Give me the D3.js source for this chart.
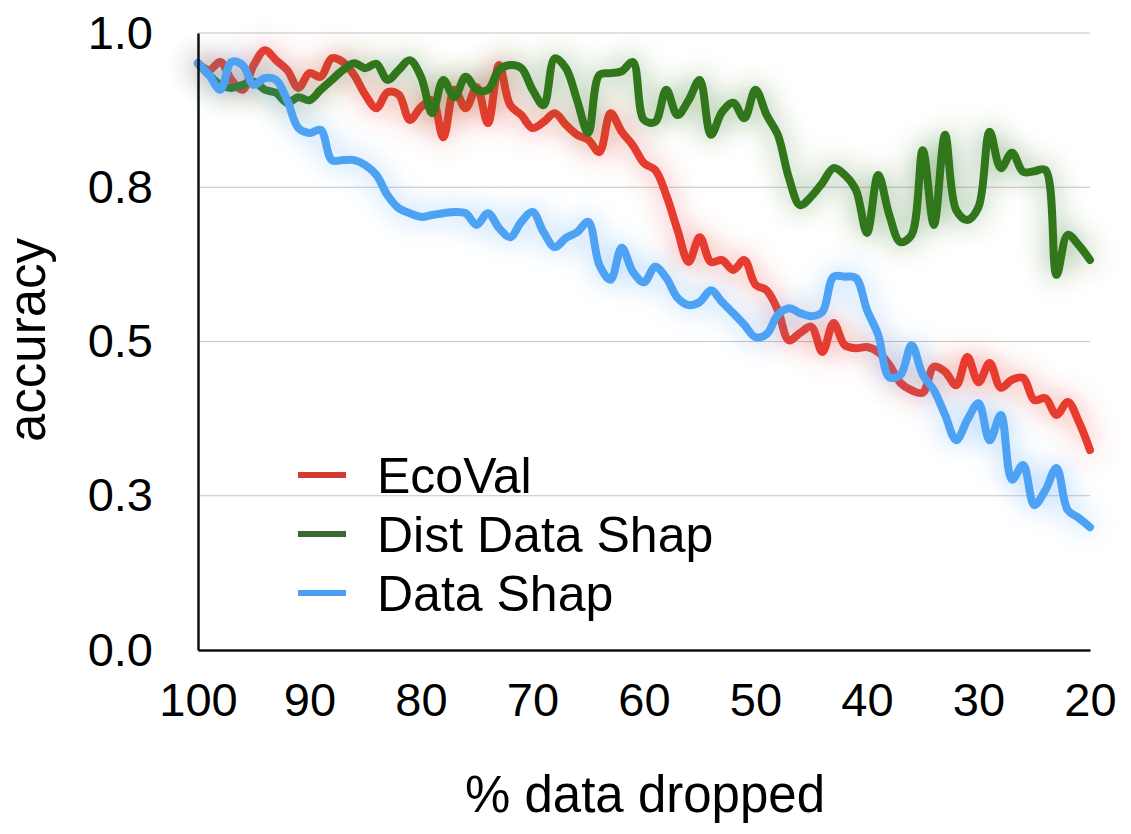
<!DOCTYPE html>
<meta charset="utf-8">
<script src="https://d3js.org/d3.v7.min.js"></script>
<style>
    body { margin: 0; background: #fff; }
    text { font-family: "Liberation Sans", Arial, sans-serif; fill: #000; }
</style>
<div id="chart"></div>
<script>
    // % data dropped, 100 down to 20
    var dropped = d3.range(100, 19, -1);

    var ecoVal = [
        .951, .940, .953, .924, .908, .948, .972, .956, .940, .911,
        .935, .929, .959, .953, .932, .900, .878, .904, .900, .859,
        .880, .891, .831, .908, .878, .912, .854, .948, .883, .867,
        .846, .856, .870, .851, .835, .827, .807, .870, .840, .818,
        .789, .778, .737, .681, .629, .669, .629, .632, .616, .632,
        .592, .583, .551, .502, .514, .524, .483, .530, .494, .489,
        .491, .483, .462, .433, .421, .417, .459, .451, .429, .475,
        .434, .465, .425, .438, .441, .405, .408, .381, .402, .370,
        .324
    ];

    var distDataShap = [
        .951, .932, .916, .911, .916, .921, .908, .903, .887, .896,
        .891, .908, .924, .940, .951, .943, .950, .924, .940, .956,
        .929, .870, .924, .896, .929, .908, .908, .940, .948, .943,
        .908, .883, .959, .943, .891, .838, .932, .935, .938, .953,
        .859, .856, .908, .867, .891, .924, .835, .872, .887, .862,
        .908, .867, .835, .765, .721, .735, .757, .781, .770, .746,
        .676, .770, .705, .661, .673, .810, .689, .835, .713, .697,
        .718, .840, .781, .806, .775, .776, .778, .608, .673, .656,
        .632
    ];

    var dataShap = [
        .951, .932, .908, .953, .948, .916, .927, .924, .891, .846,
        .838, .843, .794, .794, .794, .786, .770, .737, .716, .708,
        .702, .705, .708, .710, .708, .689, .708, .684, .669, .694,
        .710, .677, .653, .668, .677, .694, .624, .600, .652, .613,
        .596, .621, .603, .571, .559, .564, .583, .564, .546, .527,
        .507, .512, .543, .554, .546, .541, .548, .605, .605, .603,
        .551, .511, .442, .446, .494, .446, .421, .381, .340, .373,
        .400, .340, .381, .276, .300, .235, .259, .295, .227, .214,
        .199
    ];

    var seriesNames = ["EcoVal", "Dist Data Shap", "Data Shap"];
    var seriesValues = [ecoVal, distDataShap, dataShap];
    var seriesColors = ["#e63b2e", "#33761f", "#4ea2f4"];
    var legendColors = ["#d83a30", "#3d6a33", "#4b9ff2"];

    var xTicks = [100, 90, 80, 70, 60, 50, 40, 30, 20];
    var yTicks = [0, 0.25, 0.5, 0.75, 1];

    var width = 1131, height = 834;
    var margin = { top: 33, right: 41, bottom: 184, left: 198 };

    var svg = d3.select("#chart").append("svg")
        .attr("width", width)
        .attr("height", height);

    // soft glow around each line
    var defs = svg.append("defs");
    var glow = defs.append("filter")
        .attr("id", "glow")
        .attr("x", "-20%").attr("y", "-30%")
        .attr("width", "140%").attr("height", "160%");
    glow.append("feGaussianBlur")
        .attr("in", "SourceGraphic")
        .attr("stdDeviation", 14)
        .attr("result", "blur");
    glow.append("feComponentTransfer")
        .attr("in", "blur")
        .attr("result", "softBlur")
        .append("feFuncA")
        .attr("type", "linear")
        .attr("slope", 0.6);
    var merge = glow.append("feMerge");
    merge.append("feMergeNode").attr("in", "softBlur");
    merge.append("feMergeNode").attr("in", "SourceGraphic");

    var x = d3.scaleLinear()
        .domain([100, 20])
        .range([margin.left, width - margin.right]);

    var y = d3.scaleLinear()
        .domain([0, 1])
        .range([height - margin.bottom, margin.top]);

    // grid lines
    svg.append("g")
        .selectAll("line")
        .data(yTicks.filter(d => d > 0))
        .join("line")
        .attr("x1", x(100))
        .attr("x2", x(20))
        .attr("y1", d => y(d))
        .attr("y2", d => y(d))
        .attr("stroke", "#c4c4c4")
        .attr("stroke-width", 1.2);

    // lines
    var line = d3.line()
        .x((d, i) => x(dropped[i]))
        .y(d => y(d))
        .curve(d3.curveCatmullRom.alpha(0.5));

    svg.append("g")
        .selectAll("path")
        .data(seriesValues)
        .join("path")
        .attr("d", d => line(d))
        .attr("fill", "none")
        .attr("stroke", (d, i) => seriesColors[i])
        .attr("stroke-width", 8)
        .attr("stroke-linejoin", "round")
        .attr("stroke-linecap", "round")
        .attr("filter", "url(#glow)");

    // axes
    var xAxis = svg.append("g")
        .attr("transform", `translate(0,${y(0)})`)
        .call(d3.axisBottom(x).tickValues(xTicks).tickSize(0).tickPadding(33).tickFormat(d3.format("d")));
    xAxis.select(".domain").attr("stroke", "#111").attr("stroke-width", 2.5);
    xAxis.selectAll("text").style("font-size", "47px").attr("fill", "#000");

    var yAxis = svg.append("g")
        .attr("transform", `translate(${x(100)},0)`)
        .call(d3.axisLeft(y).tickValues(yTicks).tickSize(0).tickPadding(45).tickFormat(d3.format(".1f")));
    yAxis.select(".domain").attr("stroke", "#111").attr("stroke-width", 2.5);
    yAxis.selectAll("text").style("font-size", "47px").attr("fill", "#000");

    // axis titles
    svg.append("text")
        .attr("x", 645)
        .attr("y", 812)
        .attr("text-anchor", "middle")
        .style("font-size", "51px")
        .text("% data dropped");

    svg.append("text")
        .attr("transform", "translate(45,340) rotate(-90)")
        .attr("text-anchor", "middle")
        .style("font-size", "51px")
        .text("accuracy");

    // legend
    var legend = svg.append("g")
        .selectAll("g")
        .data(seriesNames)
        .join("g")
        .attr("transform", (d, i) => `translate(298,${475 + i * 59})`);

    legend.append("line")
        .attr("x1", 0)
        .attr("x2", 48)
        .attr("stroke", (d, i) => legendColors[i])
        .attr("stroke-width", 6);

    legend.append("text")
        .attr("x", 79)
        .attr("dy", "0.35em")
        .style("font-size", "50px")
        .text(d => d);
</script>
